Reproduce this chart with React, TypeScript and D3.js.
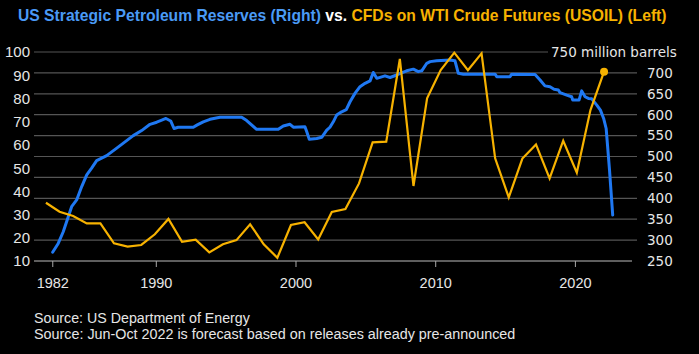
import React, { useEffect, useRef } from "react";
import * as d3 from "d3";

// US SPR level, million barrels (right axis), sampled by fractional year
const sprYears = [
  1982.58, 1982.98, 1983.34, 1983.7, 1983.94, 1984.3, 1984.66, 1985.02, 1985.37, 1985.73,
  1986.45, 1987.17, 1987.76, 1988.35, 1988.95, 1989.55, 1990.03, 1990.39, 1990.69, 1991.03,
  1991.27, 1991.57, 1992.65, 1992.9, 1993.36, 1993.84, 1994.56, 1996.11, 1996.47, 1997.18,
  1998.73, 1999.09, 1999.57, 1999.81, 2000.64, 2000.77, 2000.95, 2001.48, 2001.84, 2002.2,
  2002.43, 2002.67, 2002.91, 2003.27, 2003.6, 2003.87, 2004.22, 2004.58, 2004.94, 2005.3,
  2005.53, 2005.78, 2006.37, 2006.73, 2007.21, 2007.92, 2008.4, 2008.75, 2009.0, 2009.36,
  2009.6, 2010.07, 2011.03, 2011.38, 2011.62, 2011.98, 2014.25, 2014.37, 2015.32, 2015.44,
  2017.11, 2017.47, 2017.82, 2018.18, 2018.47, 2018.78, 2018.9, 2019.38, 2019.73, 2019.81,
  2020.26, 2020.45, 2020.69, 2020.93, 2021.17, 2021.53, 2021.79, 2022.02, 2022.2, 2022.44,
  2022.67,
];
const sprLevels = [
  271, 292, 320, 356, 380, 396, 428, 456, 472, 490,
  502, 520, 535, 550, 562, 577, 582, 587, 591, 585,
  567, 570, 570, 575, 583, 589, 594, 594, 586, 565,
  565, 573, 577, 570, 571, 559, 541, 543, 546, 563,
  570, 583, 599, 607, 612, 631, 651, 667, 675, 681,
  701, 687, 693, 689, 695, 705, 709, 703, 705, 723,
  727, 729, 731, 729, 699, 697, 697, 691, 691, 697,
  696, 683, 669, 667, 661, 659, 653, 647, 643, 635,
  635, 657, 643, 639, 638, 623, 611, 591, 567, 468,
  360,
];

// WTI CFD price, USD (left axis), evenly spaced points
const wtiFirstYear = 1982.1;
const wtiLastYear = 2022.05;
const wtiPrices = [
  35.1, 31.2, 29.4, 26.2, 26.2, 17.6, 16.2, 16.9, 21.5, 28.1,
  18.3, 19.2, 13.7, 17.2, 19.0, 25.8, 17.2, 11.4, 25.5, 26.7,
  19.3, 31.1, 32.4, 43.4, 61.1, 61.4, 97.0, 42.3, 80.1, 92.2,
  99.7, 92.2, 99.4, 54.2, 37.4, 54.1, 60.2, 45.6, 61.8, 48.0,
  75.0, 91.5,
];

const leftTicks = [10, 20, 30, 40, 50, 60, 70, 80, 90, 100];
const rightTicks = [250, 300, 350, 400, 450, 500, 550, 600, 650, 700, 750];
const xTickYears = [1982.59, 1990, 2000, 2010, 2020];
const xTickLabels = ["1982", "1990", "2000", "2010", "2020"];

const blue = "#1f78f2";
const blueTitle = "#4a9af5";
const orange = "#f7b200";

const titleParts = [
  { text: "US Strategic Petroleum Reserves (Right)", color: blueTitle },
  { text: " vs. ", color: "#ffffff" },
  { text: "CFDs on WTI Crude Futures (USOIL) (Left)", color: orange },
];
const sourceLines = [
  "Source: US Department of Energy",
  "Source: Jun-Oct 2022 is forecast based on releases already pre-announced",
];

/** Fractional year -> Date */
function yearToDate(y: number) {
  const yr = Math.floor(y);
  const start = new Date(yr, 0, 1).getTime();
  const end = new Date(yr + 1, 0, 1).getTime();
  return new Date(start + (y - yr) * (end - start));
}

export default function App() {
  const ref = useRef<SVGSVGElement>(null);

  useEffect(() => {
    document.body.style.margin = "0";
    document.body.style.background = "#000";

    const width = 699,
      height = 354,
      left = 34,
      right = 631,
      top = 52,
      bottom = 261;

    const svg = d3.select(ref.current);
    svg.selectAll("*").remove();
    svg.attr("width", width).attr("height", height);

    svg.append("rect").attr("width", width).attr("height", height).attr("fill", "#000");

    // Scales
    const x = d3
      .scaleTime()
      .domain([yearToDate(1981.245), yearToDate(2023.98)])
      .range([left, right]);
    const yLeft = d3.scaleLinear().domain([10, 100]).range([bottom, top]);
    const yRight = d3.scaleLinear().domain([250, 750]).range([bottom, top]);

    const font = "'Liberation Sans', Arial, sans-serif";

    // Grid lines (right axis ticks)
    svg
      .append("g")
      .selectAll("line")
      .data(rightTicks.filter((d) => d > 250))
      .enter()
      .append("line")
      .attr("x1", left)
      .attr("x2", (d) => (d === 750 ? 548 : 637))
      .attr("y1", (d) => yRight(d))
      .attr("y2", (d) => yRight(d))
      .attr("stroke", "#555")
      .attr("stroke-width", 1.2);

    // Bottom axis line
    svg
      .append("line")
      .attr("x1", left)
      .attr("x2", right + 1)
      .attr("y1", yRight(250))
      .attr("y2", yRight(250))
      .attr("stroke", "#bdbdbd")
      .attr("stroke-width", 1);

    // X ticks + labels
    const xt = svg
      .append("g")
      .selectAll("g")
      .data(xTickYears)
      .enter()
      .append("g")
      .attr("transform", (d) => "translate(" + x(yearToDate(d)) + ",0)");
    xt.append("line")
      .attr("y1", bottom)
      .attr("y2", bottom + 6)
      .attr("stroke", "#aaa")
      .attr("stroke-width", 1);
    xt.append("text")
      .attr("y", 288)
      .attr("text-anchor", "middle")
      .attr("font-family", font)
      .attr("font-size", "14.5px")
      .attr("fill", "#e6e6e6")
      .text((d, i) => xTickLabels[i]);

    // Left labels
    svg
      .append("g")
      .selectAll("text")
      .data(leftTicks)
      .enter()
      .append("text")
      .attr("x", 30)
      .attr("y", (d) => yLeft(d))
      .attr("dy", "0.36em")
      .attr("text-anchor", "end")
      .attr("font-family", font)
      .attr("font-size", "15px")
      .attr("fill", "#e6e6e6")
      .text((d) => d);

    // Right labels
    svg
      .append("g")
      .selectAll("text")
      .data(rightTicks)
      .enter()
      .append("text")
      .attr("x", (d) => (d === 750 ? 551 : 647))
      .attr("y", (d) => yRight(d))
      .attr("dy", "0.36em")
      .attr("font-family", "'DejaVu Sans', sans-serif")
      .attr("font-size", "13.5px")
      .attr("fill", "#e6e6e6")
      .text((d) => (d === 750 ? "750 million barrels" : d));

    // SPR line
    const sprData = sprYears.map((yr, i) => [yearToDate(yr), sprLevels[i]] as [Date, number]);
    const sprLine = d3
      .line<[Date, number]>()
      .x((d) => x(d[0]))
      .y((d) => yRight(d[1]));
    svg
      .append("path")
      .datum(sprData)
      .attr("d", sprLine)
      .attr("fill", "none")
      .attr("stroke", blue)
      .attr("stroke-width", 3)
      .attr("stroke-linejoin", "round")
      .attr("stroke-linecap", "round");

    // WTI line, points evenly spaced in time
    const idx = d3
      .scaleLinear()
      .domain([0, wtiPrices.length - 1])
      .range([wtiFirstYear, wtiLastYear]);
    const wtiData = wtiPrices.map((p, i) => [yearToDate(idx(i)), p] as [Date, number]);
    const wtiLine = d3
      .line<[Date, number]>()
      .x((d) => x(d[0]))
      .y((d) => yLeft(d[1]));
    svg
      .append("path")
      .datum(wtiData)
      .attr("d", wtiLine)
      .attr("fill", "none")
      .attr("stroke", orange)
      .attr("stroke-width", 2.2)
      .attr("stroke-linejoin", "miter");
    const last = wtiData[wtiData.length - 1];
    svg
      .append("circle")
      .attr("cx", x(last[0]))
      .attr("cy", yLeft(last[1]))
      .attr("r", 4)
      .attr("fill", orange);

    // Title
    const title = svg
      .append("text")
      .attr("font-family", font)
      .attr("font-weight", "bold")
      .attr("font-size", "16px");
    title
      .selectAll("tspan")
      .data(titleParts)
      .enter()
      .append("tspan")
      .attr("fill", (d) => d.color)
      .attr("xml:space", "preserve")
      .text((d) => d.text);
    const tw = (title.node() as SVGTextElement).getComputedTextLength();
    title.attr("transform", "translate(18,21) scale(" + 649 / tw + ",1)");

    // Source notes
    const sourceWidths = [216, 482];
    sourceLines.forEach((s, i) => {
      const t = svg
        .append("text")
        .attr("font-family", font)
        .attr("font-size", "14.5px")
        .attr("fill", "#e6e6e6")
        .text(s);
      const w = (t.node() as SVGTextElement).getComputedTextLength();
      t.attr("transform", "translate(34," + (323 + i * 16) + ") scale(" + sourceWidths[i] / w + ",1)");
    });
  }, []);

  return <svg ref={ref} style={{ display: "block" }}></svg>;
}
